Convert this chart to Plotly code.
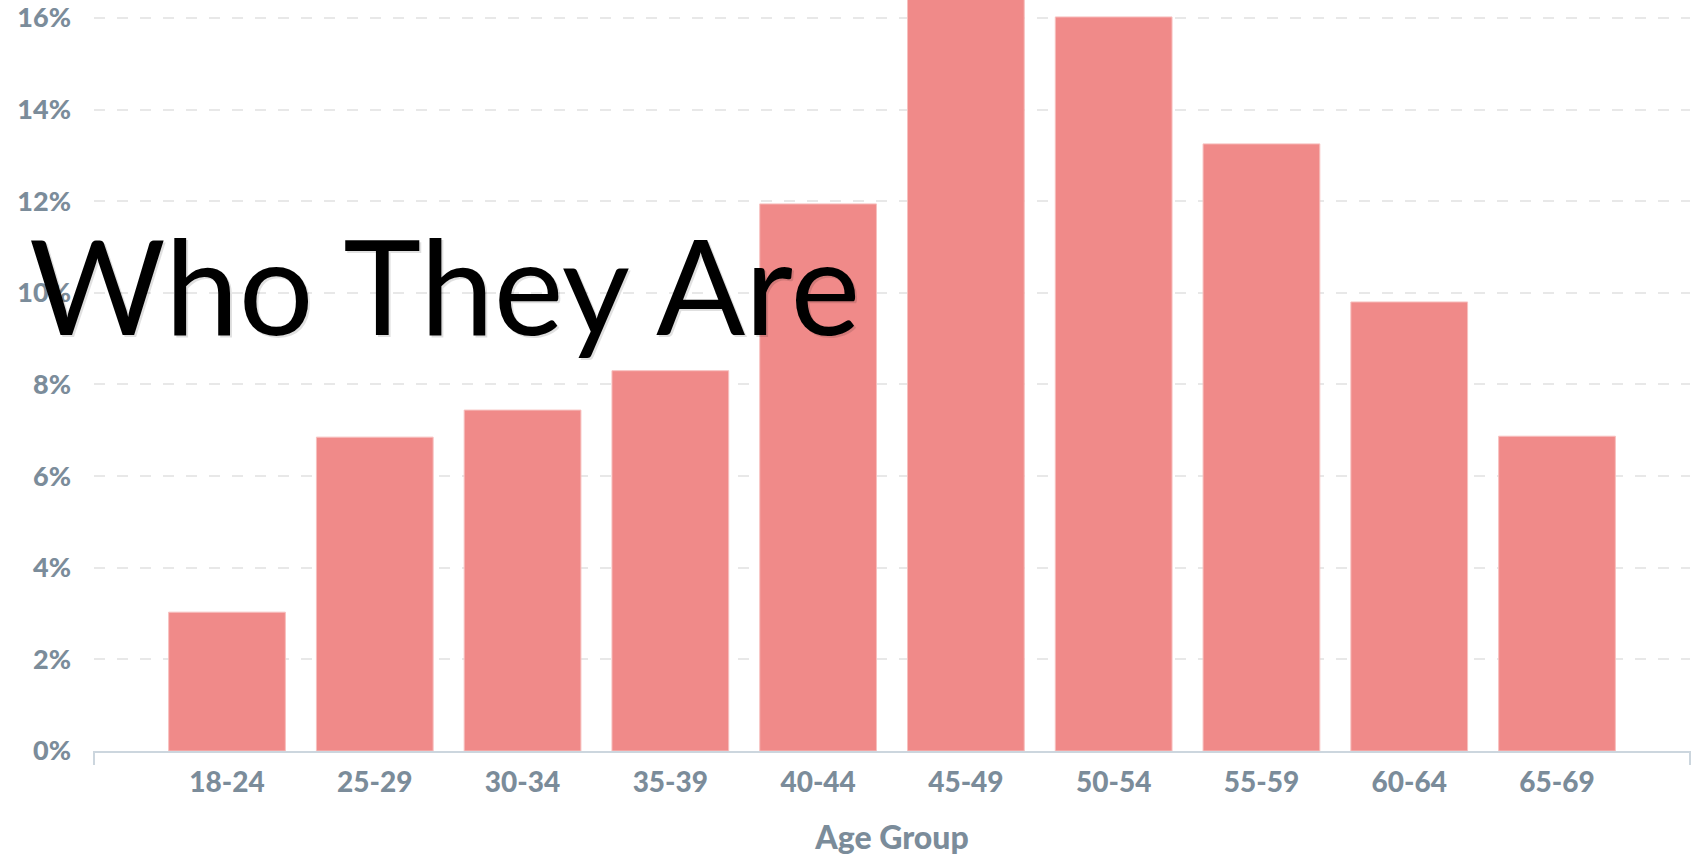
import plotly.graph_objects as go

age_groups = ["18-24", "25-29", "30-34", "35-39", "40-44", "45-49", "50-54", "55-59", "60-64", "65-69"]
share_pct = [3.03, 6.85, 7.44, 8.30, 11.94, 16.8, 16.02, 13.25, 9.80, 6.87]
y_ticks = [0, 2, 4, 6, 8, 10, 12, 14, 16]
y_tick_text = [f"{v}%" for v in y_ticks]

label_color = "#7b8c9a"
axis_color = "#ccd6de"

fig = go.Figure(
    go.Bar(
        x=age_groups,
        y=share_pct,
        marker=dict(color="#F08A89", line=dict(color="#f7c0bf", width=1)),
        hoverinfo="x+y",
    )
)

fig.update_layout(
    width=1701,
    height=862,
    margin=dict(l=94, r=11, t=0, b=111),
    plot_bgcolor="white",
    paper_bgcolor="white",
    bargap=0.21,
    showlegend=False,
    font=dict(family="Lato", color=label_color),
)

fig.update_yaxes(
    range=[0, 16.39],
    tickvals=y_ticks,
    ticktext=y_tick_text,
    showgrid=True,
    gridcolor="#e8e8e8",
    gridwidth=2,
    griddash="11px,12px",
    zeroline=False,
    showline=False,
    ticks="",
    ticklabelstandoff=22,
    tickfont=dict(family="Lato", size=27, color=label_color, weight=900),
)

fig.update_xaxes(
    range=[-0.9, 9.9],
    showline=True,
    linecolor=axis_color,
    linewidth=2,
    ticks="",
    showgrid=False,
    ticklabelstandoff=5,
    tickfont=dict(family="Lato", size=28, color=label_color, weight=900),
    title=dict(text="Age Group", font=dict(family="Lato", size=32, color=label_color, weight=900), standoff=30),
)

# end ticks of the x axis line
for xp in (0, 1):
    fig.add_shape(type="line", xref="paper", yref="paper", x0=xp, x1=xp, y0=0, y1=-14 / 751,
                  line=dict(color=axis_color, width=2))

# overlay heading with soft shadow
fig.add_annotation(text="Who They Are", xref="paper", yref="paper", x=-0.04, y=0.62,
                   xanchor="left", yanchor="middle", showarrow=False, xshift=-1, yshift=-1,
                   font=dict(family="Lato", size=132, color="rgba(0,0,0,0.12)"))
fig.add_annotation(text="Who They Are", xref="paper", yref="paper", x=-0.04, y=0.62,
                   xanchor="left", yanchor="middle", showarrow=False, xshift=-3, yshift=1,
                   font=dict(family="Lato", size=132, color="black"))

fig.write_html(
    "out.html",
    config={"displayModeBar": False},
    post_script="document.body.style.margin='0';document.body.style.padding='0';",
)
